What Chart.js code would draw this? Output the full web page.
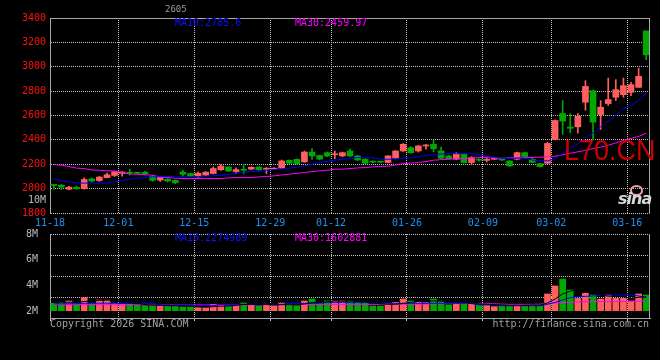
<!DOCTYPE html>
<html><head><meta charset="utf-8">
<script src="https://cdn.jsdelivr.net/npm/chart.js@4.4.1/dist/chart.umd.min.js"></script>
<style>
html,body{margin:0;padding:0;background:#000;}
#wrap{position:relative;width:660px;height:360px;background:#000;overflow:hidden;font-family:"DejaVu Sans Mono",monospace;}
canvas{position:absolute;left:0;}
#cPrice{top:0;}
#cVol{top:224px;}
.t{position:absolute;font-size:10px;line-height:10px;white-space:nowrap;font-family:"DejaVu Sans Mono",monospace;}
</style></head><body>
<div id="wrap">
<canvas id="cPrice" width="660" height="226" style="width:660px;height:226px"></canvas>
<canvas id="cVol" width="660" height="136" style="width:660px;height:136px"></canvas>
<div class="t" style="left:165px;top:4px;color:#9a9a9a;font-size:9px">2605</div>
<div class="t" style="left:175px;top:18px;color:#1010ff">MA10:2785.6</div>
<div class="t" style="left:295px;top:18px;color:#ff00ff">MA30:2459.97</div>
<div class="t" style="left:175px;top:233px;color:#1010ff">MA10:2274989</div>
<div class="t" style="left:295px;top:233px;color:#ff00ff">MA30:1602881</div>
<div class="t" style="left:50px;top:319px;color:#a0a0a0">Copyright 2026 SINA.COM</div>
<div class="t" style="right:11px;top:319px;color:#a0a0a0">http://finance.sina.com.cn</div>
<div class="t" style="left:564px;top:135px;color:#cc0000;font-family:'Liberation Sans',Arial,sans-serif;font-size:30px;line-height:30px;transform:scaleX(0.9);transform-origin:left top">L70.CN</div>
<div style="position:absolute;left:630px;top:185px;width:9px;height:7px;border:2px solid #f3a0a0;border-radius:50%"></div>
<div class="t" style="left:618px;top:191px;color:#d8d8d8;font-family:'DejaVu Sans',sans-serif;font-size:16px;line-height:16px;font-weight:bold;font-style:italic;letter-spacing:-1px">sina</div>
</div>
<script>
const dates = ['11-18','11-19','11-20','11-21','11-24','11-25','11-26','11-27','11-28',
'12-01','12-02','12-03','12-04','12-05','12-08','12-09','12-10','12-11','12-12',
'12-15','12-16','12-17','12-18','12-19','12-22','12-23','12-24','12-25','12-26',
'12-29','12-30','12-31','01-05','01-06','01-07','01-08','01-09',
'01-12','01-13','01-14','01-15','01-16','01-19','01-20','01-21','01-22','01-23',
'01-26','01-27','01-28','01-29','01-30','02-02','02-03','02-04','02-05','02-06',
'02-09','02-10','02-11','02-12','02-13','02-24','02-25','02-26','02-27',
'03-02','03-03','03-04','03-05','03-06','03-09','03-10','03-11','03-12','03-13',
'03-16','03-17','03-18'];
const labelDates = ['11-18','12-01','12-15','12-29','01-12','01-26','02-09','03-02','03-16'];

const open  = [2030,2028,1995,2010,2000,2080,2066,2090,2108,2125, 2130,2130,2134,2100,2070,2078,2068,2135,2124,2096, 2110,2124,2155,2178,2140,2155,2160,2177,2160,2160, 2168,2232,2240,2220,2300,2272,2295,2278,2268,2309, 2268,2241,2220,2220,2214,2249,2309,2336,2309,2350, 2364,2309,2268,2241,2282,2214,2236,2232,2241,2246, 2227,2241,2295,2240,2205,2208,2404,2616,2505,2507, 2709,2804,2608,2698,2750,2771,2790,2831,3294];
const high  = [2031,2034,2018,2022,2088,2088,2100,2128,2140,2140, 2160,2134,2142,2108,2096,2082,2072,2150,2126,2138, 2140,2178,2198,2180,2170,2200,2178,2180,2172,2170, 2235,2236,2244,2308,2328,2276,2300,2309,2300,2325, 2272,2245,2228,2226,2272,2312,2370,2345,2355,2364, 2396,2340,2275,2295,2290,2262,2245,2255,2258,2250, 2230,2300,2300,2250,2208,2380,2565,2722,2614,2616, 2886,2808,2722,2907,2894,2907,2872,2989,3294];
const low   = [1995,1992,1990,1995,1995,2055,2060,2088,2100,2102, 2112,2122,2112,2060,2060,2055,2040,2105,2094,2094, 2106,2120,2150,2140,2124,2124,2155,2150,2124,2156, 2165,2204,2200,2215,2240,2236,2262,2246,2262,2262, 2230,2204,2210,2212,2210,2245,2305,2290,2300,2323, 2300,2245,2240,2236,2208,2195,2225,2219,2238,2230, 2182,2236,2250,2215,2176,2205,2400,2445,2458,2458, 2643,2399,2486,2682,2722,2750,2763,2831,3057];
const close = [2026,2012,2012,2000,2075,2062,2095,2114,2138,2136, 2126,2126,2122,2068,2092,2062,2048,2118,2098,2126, 2135,2165,2185,2145,2156,2151,2175,2155,2166,2166, 2227,2208,2205,2300,2268,2242,2268,2284,2295,2268, 2235,2208,2217,2217,2268,2309,2364,2295,2350,2356, 2328,2249,2246,2287,2214,2255,2233,2236,2255,2235, 2186,2295,2263,2215,2181,2371,2559,2554,2495,2594, 2839,2546,2668,2731,2812,2845,2853,2921,3098];

const ma10 = [2080,2064,2055,2048,2045,2045,2045,2046,2055,2066, 2078,2085,2091,2096,2099,2099,2097,2099,2099,2099, 2102,2105,2110,2118,2128,2135,2140,2143,2150,2157, 2162,2168,2176,2186,2200,2215,2224,2233,2240,2248, 2255,2255,2252,2242,2241,2245,2250,2255,2262,2272, 2280,2284,2287,2287,2287,2287,2278,2265,2257,2248, 2246,2250,2250,2235,2227,2228,2246,2290,2330,2368, 2415,2458,2507,2554,2600,2660,2680,2725,2786];
const ma30 = [2198,2192,2181,2168,2165,2153,2151,2147,2145,2132, 2120,2118,2114,2110,2095,2091,2085,2083,2083,2083, 2083,2083,2083,2088,2091,2091,2091,2096,2099,2105, 2112,2118,2126,2132,2140,2146,2151,2159,2160,2165, 2170,2173,2178,2181,2184,2195,2205,2210,2214,2222, 2233,2238,2241,2246,2246,2250,2255,2255,2250,2249, 2252,2255,2254,2256,2258,2260,2266,2278,2290,2302, 2314,2328,2341,2356,2375,2395,2412,2428,2455];

// volume in millions
const vol = [1.40,1.49,1.62,1.40,1.94,1.40,1.71,1.71,1.40,1.30, 1.30,1.24,1.17,1.17,1.17,1.17,1.17,1.08,1.08,0.98, 0.98,1.30,1.30,1.14,1.30,1.43,1.30,1.14,1.30,1.17, 1.43,1.30,1.17,1.62,1.81,1.49,1.62,1.62,1.62,1.62, 1.46,1.40,1.14,1.14,1.40,1.49,1.81,1.62,1.49,1.46, 1.81,1.62,1.24,1.40,1.40,1.40,1.24,1.24,1.08,1.24, 1.30,1.24,1.17,1.24,1.24,2.29,3.05,3.71,2.67,1.87, 2.35,2.19,1.81,2.19,1.87,1.87,1.62,2.29,2.19];
const volMa5 = [1.50,1.50,1.50,1.50,1.57, 1.61,1.68,1.70,1.69,1.58, 1.48,1.39,1.28,1.24,1.21, 1.18,1.17,1.15,1.13,1.10, 1.04,1.08,1.13,1.14,1.20, 1.29,1.30,1.30,1.29,1.25, 1.27,1.27,1.27,1.34,1.47, 1.48,1.54,1.63,1.59,1.62, 1.59,1.54,1.45,1.35,1.31, 1.31,1.38,1.49,1.58,1.57, 1.64,1.60,1.53,1.51,1.50, 1.37,1.34,1.30,1.27,1.24, 1.22,1.22,1.21,1.24,1.22, 1.44,1.80,2.30,2.55,2.72, 2.73,2.56,2.18,2.08,2.06, 2.02,1.87,1.97,2.02];
const volMa10 = [1.35,1.35,1.36,1.36,1.40, 1.40,1.41,1.41,1.40,1.40, 1.40,1.40,1.40,1.40,1.26, 1.24,1.24,1.24,1.24,1.17, 1.17,1.17,1.30,1.30,1.30, 1.30,1.30,1.30,1.30,1.30, 1.30,1.40,1.40,1.40,1.40, 1.40,1.49,1.49,1.49,1.49, 1.49,1.49,1.40,1.40,1.40, 1.40,1.40,1.40,1.40,1.40, 1.40,1.40,1.40,1.40,1.40, 1.40,1.24,1.24,1.24,1.17, 1.17,1.17,1.17,1.17,1.17, 1.30,1.49,1.71,1.94,2.03, 2.06,2.10,2.15,2.19,2.19, 2.19,2.19,2.10,1.94];
const volMa30 = [1.26,1.26,1.26,1.26,1.26, 1.26,1.26,1.26,1.26,1.26, 1.26,1.26,1.26,1.26,1.26, 1.25,1.25,1.25,1.24,1.24, 1.24,1.24,1.24,1.24,1.24, 1.24,1.25,1.25,1.26,1.26, 1.27,1.28,1.28,1.29,1.30, 1.30,1.30,1.30,1.30,1.30, 1.30,1.30,1.30,1.30,1.30, 1.30,1.30,1.31,1.32,1.34, 1.35,1.36,1.36,1.37,1.37, 1.37,1.36,1.36,1.35,1.32, 1.30,1.30,1.30,1.30,1.32, 1.40,1.42,1.46,1.49,1.52, 1.54,1.56,1.56,1.56,1.57, 1.57,1.58,1.60,1.62];

const priceTicks = [1800,2000,2200,2400,2600,2800,3000,3200,3400];
const volTickLabelAt = 1903; // where the "10M" label sits on the price axis
const volTicks = [2,4,6,8];
const volBase = 0.7;

const upColor = '#ff5f5f', downColor = '#00a800';
const candleColors = close.map((c, i) => c >= open[i] ? upColor : downColor);
const gridColor = '#c4c4c4';
const frameColor = '#a8a8a8';
const mono = {family: "'DejaVu Sans Mono', monospace", size: 10};

const xGridColor = ctx => (labelDates.includes(dates[ctx.index]) ? gridColor : 'rgba(0,0,0,0)');

const frame = {
  id: 'frame',
  afterDatasetsDraw(chart, args, opts) {
    const {ctx, chartArea: a} = chart;
    ctx.save();
    ctx.strokeStyle = opts.color;
    ctx.lineWidth = 1;
    ctx.beginPath();
    if (opts.top) { ctx.moveTo(a.left, Math.round(a.top) + 0.5); ctx.lineTo(a.right, Math.round(a.top) + 0.5); }
    if (opts.right) { ctx.moveTo(Math.round(a.right) - 0.5, a.top); ctx.lineTo(Math.round(a.right) - 0.5, a.bottom + 1); }
    ctx.stroke();
    ctx.restore();
  }
};

Chart.defaults.font.family = "'DejaVu Sans Mono', monospace";

new Chart(document.getElementById('cPrice'), {
  type: 'bar',
  data: {
    labels: dates,
    datasets: [
      {type: 'line', label: 'MA10', data: ma10, borderColor: '#0000ff', borderWidth: 1, pointRadius: 0, tension: 0, order: 0},
      {type: 'line', label: 'MA30', data: ma30, borderColor: '#ff00ff', borderWidth: 1, pointRadius: 0, tension: 0, order: 0},
      {type: 'bar', label: 'body', data: open.map((o, i) => [o, close[i]]), backgroundColor: candleColors, barThickness: 6, grouped: false, minBarLength: 1, order: 1},
      {type: 'bar', label: 'wick', data: low.map((l, i) => [l, high[i]]), backgroundColor: candleColors, barThickness: 1, grouped: false, order: 2}
    ]
  },
  options: {
    responsive: false, animation: false, devicePixelRatio: 1,
    layout: {padding: {top: 18, right: 10, left: 0, bottom: 0}},
    plugins: {legend: {display: false}, tooltip: {enabled: false}, frame: {color: frameColor, top: true, right: true}},
    scales: {
      x: {
        type: 'category', offset: true,
        grid: {offset: true, drawTicks: false, color: xGridColor, lineWidth: 1},
        border: {display: false, dash: [1, 1]},
        ticks: {autoSkip: false, maxRotation: 0, minRotation: 0, padding: 4, labelOffset: -3.8, color: '#2090f0', font: mono,
          callback: (v, i) => labelDates.includes(dates[i]) ? dates[i] : ''},
        afterFit: s => { s.height = 13; }
      },
      y: {
        type: 'linear', min: 1800, max: 3400,
        afterBuildTicks: s => { s.ticks = priceTicks.concat([volTickLabelAt]).sort((a, b) => a - b).map(v => ({value: v})); },
        ticks: {padding: 4, font: mono,
          color: c => c.tick && c.tick.value === volTickLabelAt ? '#b8b8b8' : '#ff1010',
          callback: v => v === volTickLabelAt ? '10M' : String(v)},
        grid: {drawTicks: false, color: c => (c.tick && c.tick.value === volTickLabelAt) ? 'rgba(0,0,0,0)' : gridColor},
        border: {display: true, color: frameColor, dash: [1, 1]},
        afterFit: s => { s.width = 50; }
      }
    }
  },
  plugins: [frame]
});

new Chart(document.getElementById('cVol'), {
  type: 'bar',
  data: {
    labels: dates,
    datasets: [
      {type: 'line', label: 'VMA5', data: volMa5, borderColor: '#000000', borderWidth: 1, pointRadius: 0, order: 0},
      {type: 'line', label: 'VMA10', data: volMa10, borderColor: '#0000ff', borderWidth: 1, pointRadius: 0, order: 0},
      {type: 'line', label: 'VMA30', data: volMa30, borderColor: '#ff00ff', borderWidth: 1, pointRadius: 0, order: 0},
      {type: 'bar', label: 'vol', data: vol.map(v => [volBase, v]), backgroundColor: candleColors, barThickness: 6, grouped: false, order: 1}
    ]
  },
  options: {
    responsive: false, animation: false, devicePixelRatio: 1,
    layout: {padding: {top: 10, right: 10, left: 0, bottom: 0}},
    plugins: {legend: {display: false}, tooltip: {enabled: false}, frame: {color: frameColor, top: false, right: true}},
    scales: {
      x: {
        type: 'category', offset: true,
        grid: {offset: true, drawTicks: true, tickLength: 3, color: xGridColor, tickColor: xGridColor},
        border: {display: true, color: frameColor, dash: [1, 1]},
        ticks: {display: false},
        afterFit: s => { s.height = 42; }
      },
      y: {
        type: 'linear', min: 0, max: 8, weight: 0,
        ticks: {display: false, stepSize: 2},
        grid: {drawTicks: false, color: c => (c.tick && c.tick.value === 0) ? 'rgba(0,0,0,0)' : gridColor},
        border: {display: true, color: frameColor, dash: [1, 1]},
        afterFit: s => { s.width = 0; }
      },
      yl: {
        type: 'linear', position: 'left', min: 1.481, max: 8, weight: 1,
        afterBuildTicks: s => { s.ticks = volTicks.map(v => ({value: v})); },
        ticks: {padding: 4, font: mono, color: '#b8b8b8', callback: v => v + 'M'},
        grid: {display: false},
        border: {display: false},
        afterFit: s => { s.width = 50; }
      }
    }
  },
  plugins: [frame]
});
</script>
</body></html>
